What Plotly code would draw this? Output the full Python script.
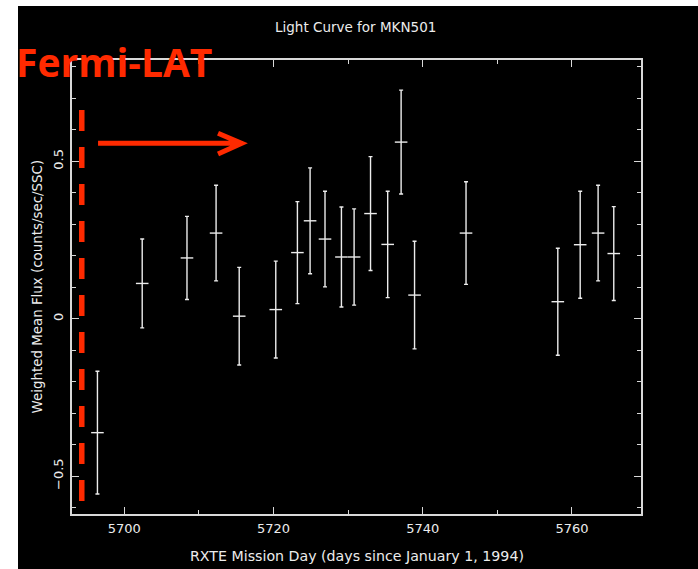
import plotly.graph_objects as go

# RXTE light curve of MKN501
days = [5696.4, 5702.4, 5708.4, 5712.3, 5715.4, 5720.3, 5723.2, 5724.9, 5726.9, 5729.1,
        5730.8, 5733.0, 5735.3, 5737.1, 5738.9, 5745.8, 5758.1, 5761.1, 5763.5, 5765.6]
flux = [-0.362, 0.112, 0.193, 0.272, 0.008, 0.029, 0.210, 0.311, 0.253, 0.196,
        0.196, 0.334, 0.236, 0.561, 0.075, 0.272, 0.054, 0.235, 0.272, 0.207]
flux_err = [0.195, 0.141, 0.132, 0.152, 0.155, 0.154, 0.162, 0.168, 0.152, 0.159,
            0.153, 0.181, 0.169, 0.165, 0.171, 0.163, 0.170, 0.170, 0.152, 0.149]

x_ticks = [5700, 5720, 5740, 5760]
y_ticks = [-0.5, 0, 0.5]
y_tick_text = ["\u22120.5", "0", "0.5"]

# Fermi-LAT start marker
fermi_day = 5694.3

FG = "#ececec"
RED = "#ff2a00"
FONT = "DejaVu Sans"

W, H = 698, 569
ML, MR, MT, MB = 72, 57, 60, 55
PW, PH = W - ML - MR, H - MT - MB


def px_x(px):
    return (px - ML) / PW


def px_y(py):
    return (H - MB - py) / PH


fig = go.Figure()
fig.add_trace(go.Scatter(
    x=days, y=flux, mode="markers",
    marker=dict(symbol="line-ew", size=9, color=FG, line=dict(color=FG, width=1.4)),
    error_y=dict(type="data", array=flux_err, color=FG, thickness=1.4, width=2),
    showlegend=False, hoverinfo="skip",
))

shapes = [
    # white edge strips of the page
    dict(type="rect", xref="paper", yref="paper", x0=px_x(0), x1=px_x(18), y0=px_y(H), y1=px_y(0),
         fillcolor="white", line=dict(width=0), layer="above"),
    dict(type="rect", xref="paper", yref="paper", x0=px_x(0), x1=px_x(W), y0=px_y(6), y1=px_y(0),
         fillcolor="white", line=dict(width=0), layer="above"),
    # Fermi-LAT start line
    dict(type="line", xref="x", yref="y", x0=fermi_day, x1=fermi_day, y0=0.663, y1=-0.589,
         line=dict(color=RED, width=5.5, dash="21px,16px")),
    # arrow pointing forward in time
    dict(type="path", xref="x", yref="y",
         path="M 5696.48 0.557 L 5715.6 0.557 M 5712.56 0.589 L 5715.73 0.557 L 5712.56 0.523",
         line=dict(color=RED, width=5)),
]

annotations = [
    dict(text="Light Curve for MKN501", xref="paper", yref="paper", x=px_x(355), y=px_y(27),
         xanchor="center", yanchor="middle", showarrow=False,
         font=dict(family=FONT, size=13.5, color=FG)),
    dict(text="RXTE Mission Day (days since January 1, 1994)", xref="paper", yref="paper",
         x=px_x(356.5), y=px_y(556), xanchor="center", yanchor="middle", showarrow=False,
         font=dict(family=FONT, size=14.2, color=FG)),
    dict(text="Weighted Mean Flux (counts/sec/SSC)", xref="paper", yref="paper",
         x=px_x(37), y=px_y(286.5), xanchor="center", yanchor="middle", showarrow=False,
         textangle=-90, font=dict(family=FONT, size=13.4, color=FG)),
    dict(text="<b>Fermi-LAT</b>", xref="paper", yref="paper", x=px_x(14), y=px_y(61),
         xanchor="left", yanchor="middle", showarrow=False,
         font=dict(family="Open Sans", size=39, color=RED)),
]

axis_common = dict(
    showline=True, linecolor="#d8d8d8", linewidth=1.5, mirror="ticks",
    ticks="inside", ticklen=7, tickwidth=1.3, tickcolor="#d8d8d8",
    showgrid=False, zeroline=False,
    tickfont=dict(family=FONT, size=13, color=FG),
)

fig.update_layout(
    width=W, height=H,
    margin=dict(l=ML, r=MR, t=MT, b=MB, pad=0),
    paper_bgcolor="black", plot_bgcolor="black",
    xaxis=dict(range=[5692.99, 5769.25], tickvals=x_ticks, ticktext=[str(v) for v in x_ticks],
               minor=dict(dtick=10, tick0=5700, ticks="inside", ticklen=4, tickcolor="#d8d8d8"),
               ticklabelstandoff=2, **axis_common),
    yaxis=dict(range=[-0.6204, 0.8218], tickvals=y_ticks, ticktext=y_tick_text, tickangle=-90,
               minor=dict(dtick=0.1, tick0=0, ticks="inside", ticklen=4, tickcolor="#d8d8d8"),
               ticklabelstandoff=2, **axis_common),
    shapes=shapes,
    annotations=annotations,
)

fig.write_html("out.html")
